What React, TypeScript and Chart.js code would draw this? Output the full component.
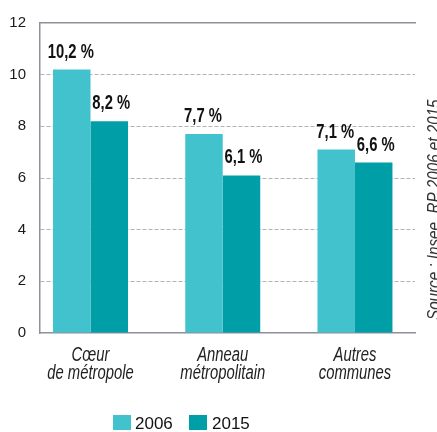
import React, { useEffect, useRef } from "react";
import { Chart, registerables } from "chart.js";

Chart.register(...registerables);

const categories: string[][] = [
  ["Cœur", "de métropole"],
  ["Anneau", "métropolitain"],
  ["Autres", "communes"],
];
const seriesNames = ["2006", "2015"];
const values2006 = [10.2, 7.7, 7.1];
const values2015 = [8.2, 6.1, 6.6];
const yTicks = [0, 2, 4, 6, 8, 10, 12];
const sourceText = "Source : Insee, RP 2006 et 2015.";

const colors = ["#42C2CD", "#009FA8"];
const SANS = "'Liberation Sans', Arial, sans-serif";

const fmt = (v: number) => v.toFixed(1).replace(".", ",") + " %";

// draw condensed text (horizontal compression) centered/left at x,y
function condensedText(ctx: any, text: string, x: number, y: number, sx: number, align: string) {
  ctx.save();
  ctx.translate(x, y);
  ctx.scale(sx, 1);
  ctx.textAlign = align;
  ctx.fillText(text, 0, 0);
  ctx.restore();
}

export default function App() {
  const ref = useRef<HTMLCanvasElement | null>(null);

  useEffect(() => {
    document.body.style.margin = "0";
    const canvas = ref.current;
    if (!canvas) return;

    const labelPlugin = {
      id: "valueLabels",
      afterDatasetsDraw(chart: any) {
        const ctx = chart.ctx;
        ctx.save();
        ctx.font = `bold 20px ${SANS}`;
        ctx.fillStyle = "#111";
        ctx.textBaseline = "alphabetic";
        chart.data.datasets.forEach((ds: any, di: number) => {
          const meta = chart.getDatasetMeta(di);
          meta.data.forEach((el: any, i: number) => {
            const v = ds.data[i].y;
            condensedText(ctx, fmt(v), el.x + (di === 1 ? 2 : -1), el.y - 12, 0.74, "center");
          });
        });
        ctx.restore();
      },
    };

    const extrasPlugin = {
      id: "extras",
      afterDraw(chart: any) {
        const ctx = chart.ctx;
        ctx.save();
        // category labels (positioned by the x scale)
        const xs = chart.scales.x;
        ctx.font = `italic 19.5px ${SANS}`;
        ctx.fillStyle = "#222";
        ctx.textBaseline = "alphabetic";
        categories.forEach((lines, i) => {
          const px = xs.getPixelForValue(i);
          lines.forEach((line, li) => {
            condensedText(ctx, line, px, xs.top + 28 + li * 18, 0.76, "center");
          });
        });
        // legend
        const legendY = 415;
        const items = [
          { x: 113, tx: 135 },
          { x: 189, tx: 212 },
        ];
        ctx.font = `17px ${SANS}`;
        ctx.textAlign = "left";
        chart.data.datasets.forEach((ds: any, di: number) => {
          const it = items[di];
          ctx.fillStyle = ds.backgroundColor;
          ctx.fillRect(it.x, legendY, 18, 15);
          ctx.fillStyle = "#111";
          ctx.fillText(ds.label, it.tx, legendY + 14);
        });
        // source
        ctx.translate(440, 320);
        ctx.rotate(-Math.PI / 2);
        ctx.scale(0.8, 1);
        ctx.font = `italic 19px ${SANS}`;
        ctx.fillStyle = "#333";
        ctx.textAlign = "left";
        ctx.fillText(sourceText, 0, 0);
        ctx.restore();
      },
    };

    const xMin = -0.382;
    const xMax = 2.454;

    const chart = new Chart(canvas, {
      type: "bar",
      data: {
        datasets: [
          {
            label: seriesNames[0],
            data: values2006.map((v, i) => ({ x: i, y: v })),
            backgroundColor: colors[0],
            categoryPercentage: 0.567,
            barPercentage: 1,
          },
          {
            label: seriesNames[1],
            data: values2015.map((v, i) => ({ x: i, y: v })),
            backgroundColor: colors[1],
            categoryPercentage: 0.567,
            barPercentage: 1,
          },
        ] as any,
      },
      options: {
        animation: false,
        responsive: true,
        maintainAspectRatio: false,
        layout: { padding: { top: 18, right: 22, left: 0, bottom: 0 } },
        plugins: {
          legend: { display: false },
          tooltip: { enabled: false },
        },
        scales: {
          x: {
            type: "linear",
            position: "bottom",
            offset: false,
            min: xMin,
            max: xMax,
            afterBuildTicks: (scale: any) => {
              scale.ticks = categories.map((_, i) => ({ value: i }));
            },
            afterFit: (scale: any) => {
              scale.height = 99;
            },
            grid: { display: false, drawTicks: false, offset: false },
            border: { display: true, color: "#8f9098", width: 1.5 },
            ticks: { display: false },
          },
          x2: {
            type: "linear",
            position: "top",
            offset: false,
            min: xMin,
            max: xMax,
            afterFit: (scale: any) => {
              scale.height = 0;
            },
            grid: { display: false, drawTicks: false, offset: false },
            border: { display: true, color: "#8f9098", width: 1.5 },
            ticks: { display: false },
          },
          y: {
            min: 0,
            max: 12,
            afterBuildTicks: (scale: any) => {
              scale.ticks = yTicks.map((v) => ({ value: v }));
            },
            afterFit: (scale: any) => {
              scale.width = 40;
            },
            grid: {
              drawTicks: false,
              color: (c: any) =>
                c.tick && (c.tick.value === 0 || c.tick.value === 12) ? "rgba(0,0,0,0)" : "#b3b3b3",
              lineWidth: 1,
            },
            border: { display: true, color: "#8f9098", width: 1.5, dash: [4, 2] },
            ticks: {
              padding: 14,
              color: "#1a1a1a",
              font: { family: SANS, size: 15 },
            },
          },
        } as any,
      },
      plugins: [labelPlugin, extrasPlugin],
    });
    return () => chart.destroy();
  }, []);

  return (
    <div style={{ position: "relative", width: 437, height: 432 }}>
      <canvas ref={ref} />
    </div>
  );
}
